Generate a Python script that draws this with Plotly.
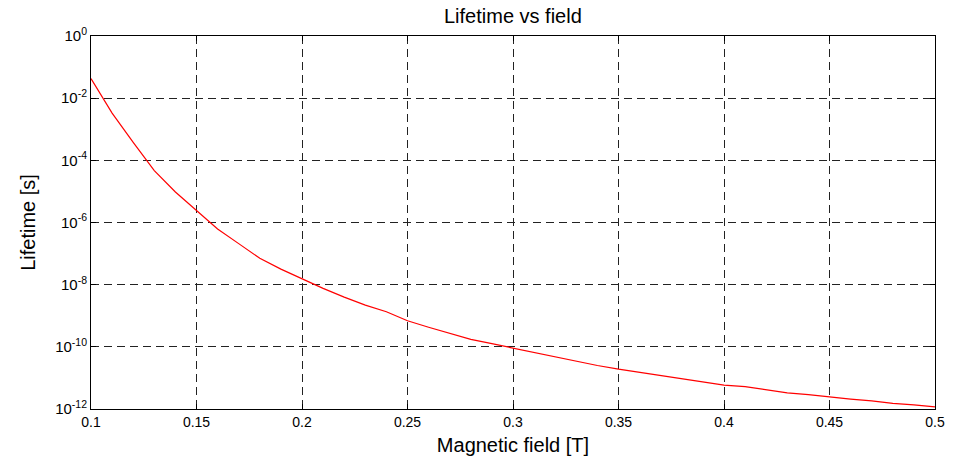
import plotly.graph_objects as go

field_T = [0.10, 0.11, 0.12, 0.13, 0.14, 0.15, 0.16, 0.17, 0.18, 0.19,
           0.20, 0.21, 0.22, 0.23, 0.24, 0.25, 0.26, 0.27, 0.28, 0.29,
           0.30, 0.31, 0.32, 0.33, 0.34, 0.35, 0.36, 0.37, 0.38, 0.39,
           0.40, 0.41, 0.42, 0.43, 0.44, 0.45, 0.46, 0.47, 0.48, 0.49, 0.50]

lifetime_s = [4.27e-2, 3.31e-3, 3.80e-4, 4.68e-5, 9.55e-6, 2.34e-6, 6.17e-7, 2.09e-7, 7.08e-8, 3.16e-8,
              1.51e-8, 7.59e-9, 3.98e-9, 2.19e-9, 1.35e-9, 6.92e-10, 4.27e-10, 2.69e-10, 1.74e-10, 1.26e-10,
              9.12e-11, 6.46e-11, 4.57e-11, 3.31e-11, 2.51e-11, 1.91e-11, 1.51e-11, 1.17e-11, 9.33e-12, 7.41e-12,
              5.89e-12, 5.25e-12, 4.17e-12, 3.31e-12, 2.88e-12, 2.40e-12, 2.09e-12, 1.82e-12, 1.51e-12, 1.35e-12, 1.17e-12]

x_ticks = [0.1, 0.15, 0.2, 0.25, 0.3, 0.35, 0.4, 0.45, 0.5]
x_tick_labels = ["0.1", "0.15", "0.2", "0.25", "0.3", "0.35", "0.4", "0.45", "0.5"]
y_ticks = [1e0, 1e-2, 1e-4, 1e-6, 1e-8, 1e-10, 1e-12]
y_tick_labels = ["10<sup>0</sup>", "10<sup>-2</sup>", "10<sup>-4</sup>", "10<sup>-6</sup>",
                 "10<sup>-8</sup>", "10<sup>-10</sup>", "10<sup>-12</sup>"]

FONT = "Liberation Sans, Arial, sans-serif"

fig = go.Figure()
fig.add_trace(go.Scatter(x=field_T, y=lifetime_s, mode="lines",
                         line=dict(color="#ff0000", width=1.2), showlegend=False))

axis_common = dict(
    showline=True, linecolor="black", linewidth=1, mirror="ticks",
    ticks="inside", ticklen=5, tickcolor="black", tickwidth=1,
    showgrid=True, gridcolor="#222222", gridwidth=1, griddash="8px,5px",
    zeroline=False, automargin=False,
)

fig.update_xaxes(range=[0.1, 0.5], tickvals=x_ticks, ticktext=x_tick_labels,
                 tickfont=dict(family=FONT, size=14, color="black"),
                 title=dict(text="Magnetic field [T]", font=dict(family=FONT, size=20, color="black"), standoff=10),
                 **axis_common)
fig.update_yaxes(type="log", range=[-12, 0], tickvals=y_ticks, ticktext=y_tick_labels,
                 tickfont=dict(family=FONT, size=15, color="black"),
                 title=dict(text="Lifetime [s]", font=dict(family=FONT, size=20, color="black"), standoff=14),
                 **axis_common)

fig.update_layout(
    width=956, height=456,
    margin=dict(l=91, r=21, t=36, b=47, autoexpand=False),
    paper_bgcolor="white", plot_bgcolor="white",
    title=dict(text="Lifetime vs field", x=0.5365, xanchor="center", y=0.965, yanchor="middle",
               font=dict(family=FONT, size=20, color="black")),
    font=dict(family=FONT, color="black"),
)

fig.write_html("out.html")
